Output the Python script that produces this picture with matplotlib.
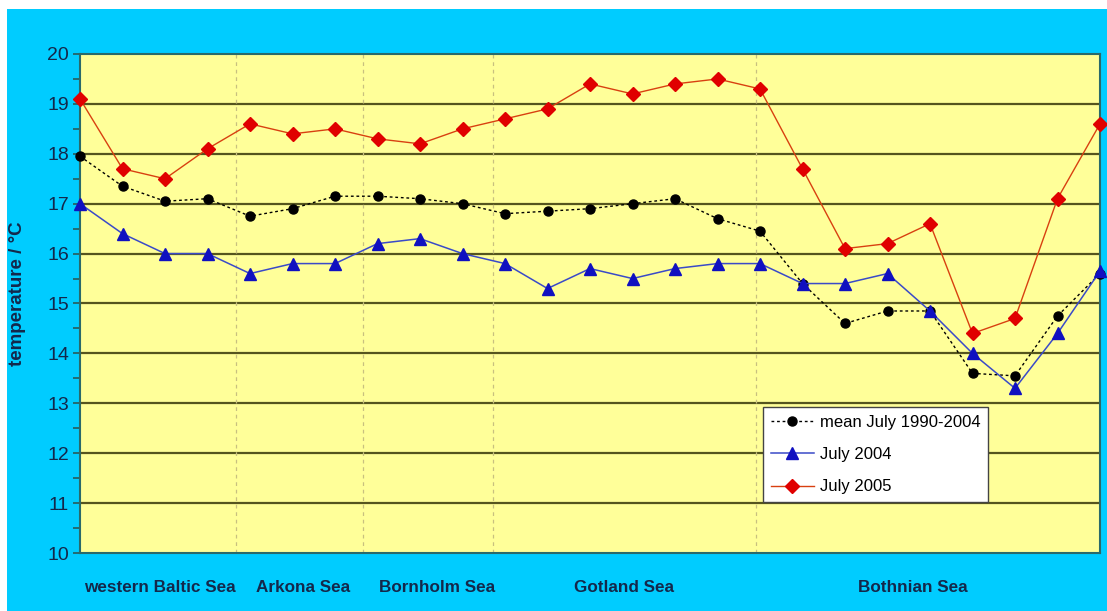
import matplotlib
matplotlib.use("Agg")
import matplotlib.pyplot as plt
from matplotlib.patches import Rectangle
from matplotlib.ticker import MultipleLocator
import numpy as np

# ---- data ----
stations = list(range(25))
mean_1990_2004 = [17.95, 17.35, 17.05, 17.1, 16.75, 16.9, 17.15, 17.15, 17.1, 17.0,
                  16.8, 16.85, 16.9, 17.0, 17.1, 16.7, 16.45, 15.4, 14.6, 14.85,
                  14.85, 13.6, 13.55, 14.75, 15.6]
july_2004 = [17.0, 16.4, 16.0, 16.0, 15.6, 15.8, 15.8, 16.2, 16.3, 16.0,
             15.8, 15.3, 15.7, 15.5, 15.7, 15.8, 15.8, 15.4, 15.4, 15.6,
             14.85, 14.0, 13.3, 14.4, 15.65]
july_2005 = [19.1, 17.7, 17.5, 18.1, 18.6, 18.4, 18.5, 18.3, 18.2, 18.5,
             18.7, 18.9, 19.4, 19.2, 19.4, 19.5, 19.3, 17.7, 16.1, 16.2,
             16.6, 14.4, 14.7, 17.1, 18.6]
regions = ["western Baltic Sea", "Arkona Sea", "Bornholm Sea", "Gotland Sea", "Bothnian Sea"]
region_centers = [1.88, 5.25, 8.40, 12.8, 19.6]
region_bounds = [3.67, 6.66, 9.72, 15.9]
series_labels = ["mean July 1990-2004", "July 2004", "July 2005"]

CYAN = "#00CCFF"
YELLOW = "#FFFF99"
TXT = "#14284B"
FAM = ["Liberation Sans", "DejaVu Sans"]

fig = plt.figure(figsize=(11.07, 6.11), dpi=100)
fig.patch.set_facecolor("white")
fig.patches.append(Rectangle((7 / 1107, 0), 1 - 7 / 1107, 1 - 9 / 611,
                             transform=fig.transFigure, facecolor=CYAN,
                             edgecolor="none", zorder=-10))

ax = fig.add_axes([80 / 1107, 58 / 611, 1020 / 1107, 499 / 611])
ax.set_facecolor(YELLOW)

for yv in range(11, 20):
    ax.axhline(yv, color="#55551E", lw=1.6, zorder=1)
for xb in region_bounds:
    ax.axvline(xb, color="#C8C080", lw=0.9, ls=(0, (3, 3)), zorder=1)

ax.plot(stations, mean_1990_2004, color="black", lw=1.0, ls=(0, (2, 2)),
        marker="o", ms=6.5, mfc="black", mec="black", label=series_labels[0], zorder=3,
        clip_on=False)
ax.plot(stations, july_2004, color="#3A4AC8", lw=1.1,
        marker="^", ms=8, mfc="#1010C0", mec="#1010C0", label=series_labels[1], zorder=4,
        clip_on=False)
ax.plot(stations, july_2005, color="#D84010", lw=1.0,
        marker="D", ms=7, mfc="#E00000", mec="#E00000", label=series_labels[2], zorder=5,
        clip_on=False)

ax.set_xlim(0, 24)
ax.set_ylim(10, 20)
ax.set_xticks([])
ax.yaxis.set_major_locator(MultipleLocator(1))
ax.yaxis.set_minor_locator(MultipleLocator(0.5))
ax.tick_params(axis="y", which="both", direction="out", color="#2A5A5A", length=5,
               width=1.2, labelsize=14, labelcolor=TXT, pad=3)
for lab in ax.get_yticklabels():
    lab.set_fontfamily(FAM)
for side in ["left", "bottom", "top", "right"]:
    ax.spines[side].set_color("#2A6A6A")
    ax.spines[side].set_linewidth(1.5)

fig.text(18 / 1107, 1 - 294 / 611, "temperature / °C", rotation=90, ha="center",
         va="center", fontsize=13.5, fontweight="bold", color=TXT, family=FAM)

for name, xc in zip(regions, region_centers):
    ax.text(xc, -0.055, name, transform=ax.get_xaxis_transform(), ha="center", va="top",
            fontsize=12.3, fontweight="bold", color=TXT, family=FAM)

leg = ax.legend(loc="upper left", bbox_to_anchor=(683 / 1020, (553 - 407) / 499),
                borderaxespad=0, frameon=True, fancybox=False, framealpha=1,
                edgecolor="#444444", borderpad=0.45, labelspacing=1.05, handlelength=2.6,
                handletextpad=0.35, prop={"family": FAM, "size": 12})
leg.get_frame().set_linewidth(1.0)
leg.set_zorder(10)

fig.savefig("out.png", dpi=100, facecolor=fig.get_facecolor())
